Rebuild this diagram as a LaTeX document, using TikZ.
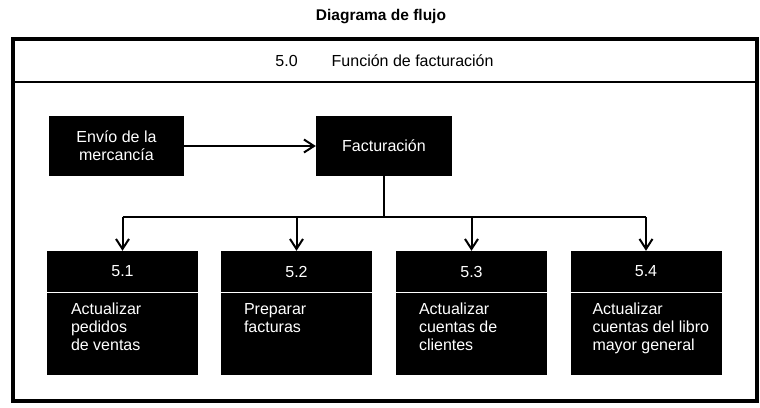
\documentclass[tikz,border=0pt]{standalone}
\usepackage{fontspec}
\setmainfont{Liberation Sans}
\usetikzlibrary{arrows.meta}
\begin{document}
\begin{tikzpicture}[x=1pt,y=-1pt,
  blk/.style={fill=black,draw=none,text=white,inner sep=0pt,font=\fontsize{16}{18}\selectfont,align=center},
  numbox/.style={blk,minimum width=151pt,minimum height=41pt},
  bodybox/.style={blk,minimum width=151pt,minimum height=82pt},
  bodytxt/.style={text=white,inner sep=0pt,font=\fontsize{16}{18}\selectfont,align=left,anchor=north west},
  conn/.style={line width=2pt},
  arr/.style={conn,-{Straight Barb[length=10pt,width=13pt,line width=2pt]}}]
\useasboundingbox (0,0) rectangle (760,407);
% title
\node[font=\bfseries\fontsize{15.5}{18}\selectfont] (title) at (381,17) {Diagrama de flujo};
% frame
\draw[line width=4pt] (13,39) rectangle (757,401);
\draw[line width=2.5pt] (13,82) -- (757,82);
\node[font=\fontsize{16}{18}\selectfont] (head) at (384.5,61) {5.0\hspace{34pt}Función de facturación};
% top nodes
\node[blk,minimum width=135pt,minimum height=60pt] (env) at (116.5,146) {Envío de la\\mercancía};
\node[blk,minimum width=136pt,minimum height=60pt] (fact) at (384,146) {Facturación};
% sub boxes
\foreach \i/\x in {1/122.5,2/296.5,3/471.5,4/646}{
  \node[numbox] (n\i) at (\x,271.5) {5.\i};
  \node[bodybox] (b\i) at (\x,334) {};
}
\node[bodytxt] (t1) at ([shift={(24,10)}]b1.north west) {Actualizar\\pedidos\\de ventas};
\node[bodytxt] (t2) at ([shift={(23,10)}]b2.north west) {Preparar\\facturas};
\node[bodytxt] (t3) at ([shift={(23,10)}]b3.north west) {Actualizar\\cuentas de\\clientes};
\node[bodytxt] (t4) at ([shift={(22,10)}]b4.north west) {Actualizar\\cuentas del libro\\mayor general};
% connectors
\draw[arr] (env) -- (fact);
\coordinate (j) at (384,217);
\draw[conn] (fact.south) -- (j);
\draw[conn] (n1.north |- j) -- (n4.north |- j);
\foreach \i in {1,2,3,4}{
  \draw[arr] (n\i.north |- j) -- (n\i.north);
}
\end{tikzpicture}
\end{document}
